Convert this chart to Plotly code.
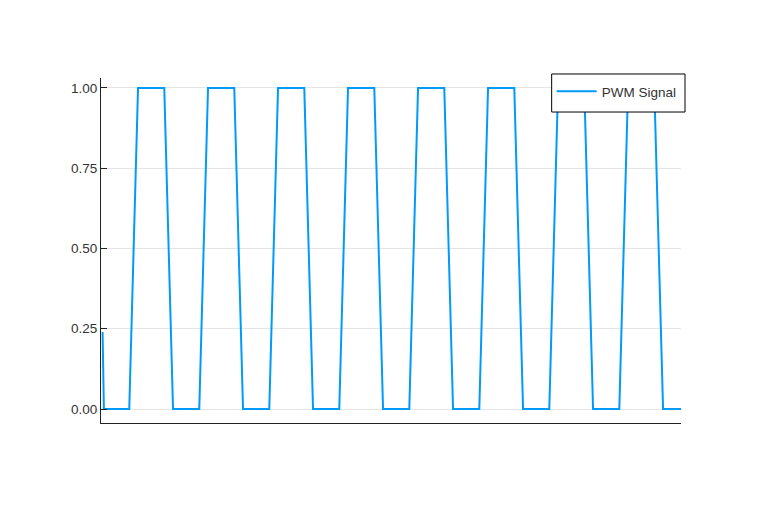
import plotly.graph_objects as go

# PWM signal vertices (time in sample units, signal level)
time = [-0.05, 0.1, 3, 4, 7, 8, 11, 12, 15, 16, 19, 20, 23, 24, 27, 28, 31, 32,
        35, 36, 39, 40, 43, 44, 47, 48, 51, 52, 55, 56, 59, 60, 63, 64, 66.1]
signal = [0.24, 0, 0, 1, 1, 0, 0, 1, 1, 0, 0, 1, 1, 0, 0, 1, 1, 0,
          0, 1, 1, 0, 0, 1, 1, 0, 0, 1, 1, 0, 0, 1, 1, 0, 0]
series_name = "PWM Signal"
y_ticks = [0, 0.25, 0.5, 0.75, 1.0]
y_tick_labels = ["0.00", "0.25", "0.50", "0.75", "1.00"]

FONT = "Liberation Sans, Arial, sans-serif"

fig = go.Figure()
fig.add_trace(go.Scatter(
    x=time, y=signal, mode="lines", name=series_name,
    line=dict(color="#009afa", width=2),
))

# legend frame (drawn as a paper-referenced box, legend text sits on top)
fig.add_shape(
    type="rect", xref="paper", yref="paper",
    x0=0.777, x1=1.0069, y0=0.9014, y1=1.0116,
    line=dict(color="black", width=1), fillcolor="white", layer="above",
)

fig.update_layout(
    width=780, height=512,
    margin=dict(l=101, r=99, t=78, b=89),
    paper_bgcolor="white", plot_bgcolor="white",
    font=dict(family=FONT, color="#333333"),
    showlegend=True,
    legend=dict(
        x=0.777, y=1.0058, xanchor="left", yanchor="top",
        bgcolor="rgba(0,0,0,0)", borderwidth=0, itemwidth=40,
        font=dict(family=FONT, size=13.5, color="#333333"),
    ),
)
fig.update_xaxes(
    range=[-0.23, 66.05], showticklabels=False, ticks="", showgrid=False,
    zeroline=False, showline=True, linecolor="#222222", linewidth=1.2,
)
fig.update_yaxes(
    range=[-0.0436, 1.031], tickvals=y_ticks, ticktext=y_tick_labels,
    ticks="inside", ticklen=6, tickcolor="#222222", tickwidth=1,
    showgrid=True, gridcolor="rgba(0,0,0,0.1)", gridwidth=1,
    zeroline=False, showline=True, linecolor="#222222", linewidth=1.2,
    tickfont=dict(family=FONT, size=13.5, color="#333333"),
)

fig.write_html("out.html")
